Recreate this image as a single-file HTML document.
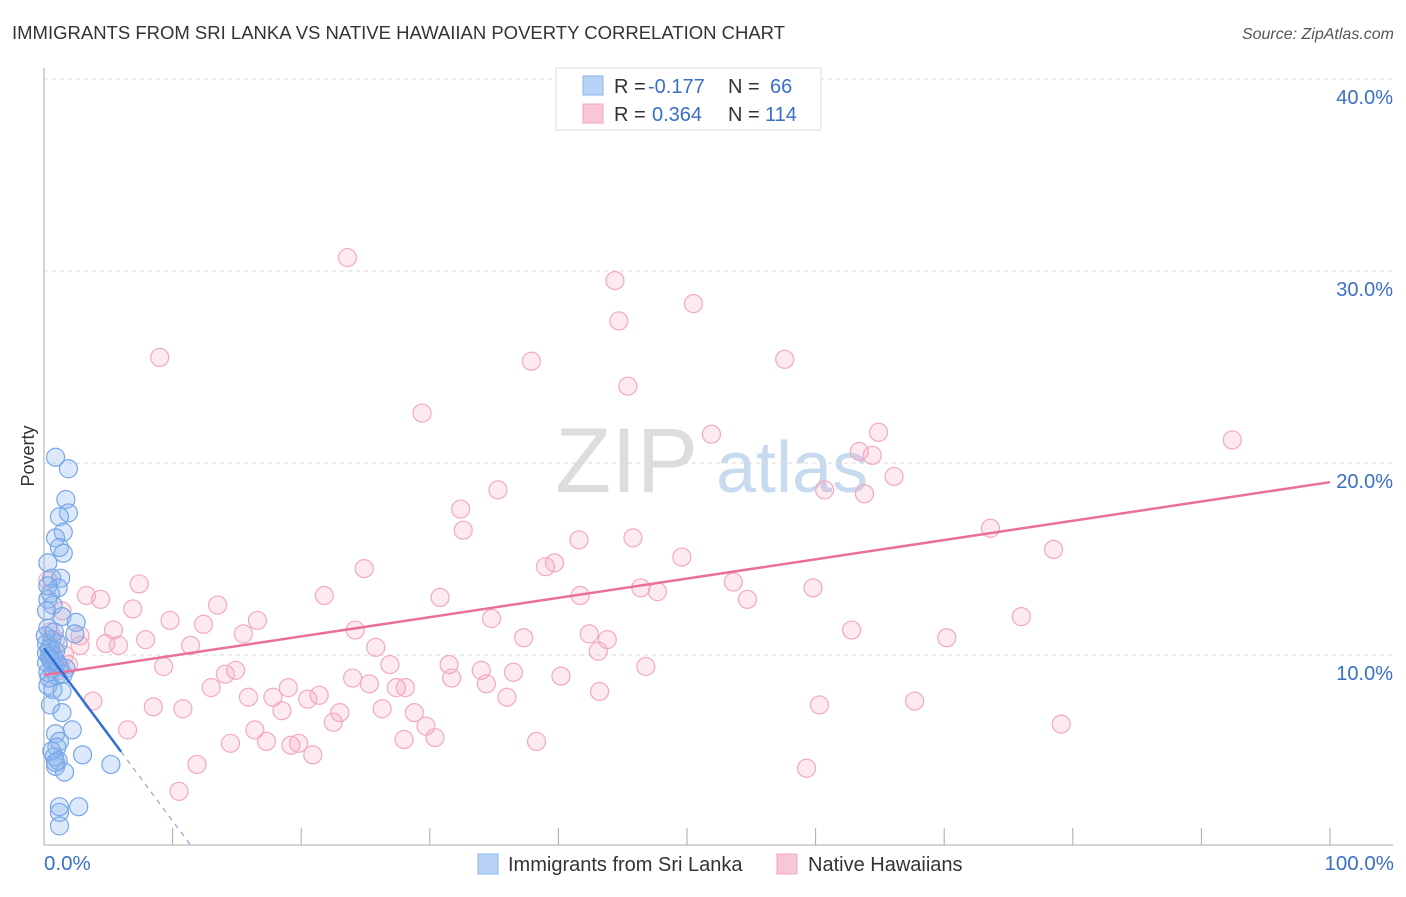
<!DOCTYPE html>
<html><head><meta charset="utf-8"><style>
body{margin:0;background:#fff;font-family:"Liberation Sans",sans-serif;}
svg text{font-family:"Liberation Sans",sans-serif;}
</style></head><body>
<svg width="1406" height="892" viewBox="0 0 1406 892">
<text x="12" y="39" font-size="18.5" fill="#333">IMMIGRANTS FROM SRI LANKA VS NATIVE HAWAIIAN POVERTY CORRELATION CHART</text>
<text x="1394" y="39" font-size="16" fill="#555" font-style="italic" text-anchor="end">Source: ZipAtlas.com</text>
<g>
<text x="555" y="492" font-size="92" font-family="Liberation Serif" fill="#ddd">ZIP</text>
<text x="716" y="492" font-size="72" fill="#c8daf0">atlas</text>
</g>
<g id="grid"></g>
<g id="axes"></g>
<g id="marks"></g>
<g id="trends"></g>
<text transform="translate(34,456) rotate(-90)" font-size="18" fill="#333" text-anchor="middle">Poverty</text>
<text x="44" y="870" font-size="20.5" fill="#3a6fc8">0.0%</text>
<text x="1394" y="870" font-size="20.5" fill="#3a6fc8" text-anchor="end">100.0%</text>
<g>
<rect x="556" y="68" width="265" height="62" fill="#fff" stroke="#ddd"/>
<rect x="583" y="76" width="20" height="19" fill="#b8d3f5" stroke="#8ab4ea"/>
<rect x="583" y="104" width="20" height="19" fill="#f9c6d6" stroke="#f2a7bf"/>
<text x="614" y="93" font-size="20" fill="#333">R = </text><text x="648" y="93" font-size="20" fill="#3a6fc8">-0.177</text>
<text x="728" y="93" font-size="20" fill="#333">N = </text><text x="770" y="93" font-size="20" fill="#3a6fc8">66</text>
<text x="614" y="121" font-size="20" fill="#333">R = </text><text x="652" y="121" font-size="20" fill="#3a6fc8">0.364</text>
<text x="728" y="121" font-size="20" fill="#333">N = </text><text x="765" y="121" font-size="20" fill="#3a6fc8">114</text>
</g>
<g>
<rect x="478" y="854" width="20" height="20" fill="#b8d3f5" stroke="#8ab4ea"/>
<text x="508" y="871" font-size="20" fill="#333">Immigrants from Sri Lanka</text>
<rect x="777" y="854" width="20" height="20" fill="#f9c6d6" stroke="#f2a7bf"/>
<text x="808" y="871" font-size="20" fill="#333">Native Hawaiians</text>
</g>
</svg>
<script>
const yTicks=[10,20,30,40];
const yTickLabels=["10.0%","20.0%","30.0%","40.0%"];
const xTicks=[10,20,30,40,50,60,70,80,90,100];
const blueX=[0.9,1.9,1.7,1.9,1.2,1.5,0.9,1.2,1.5,0.3,0.6,1.3,1.1,0.5,0.3,0.7,1.4,2.5,2.4,0.3,0.6,0.5,0.9,0.4,0.2,0.7,1.7,1.0,0.3,0.7,1.4,0.5,1.4,2.2,0.9,1.2,1.0,0.8,1.1,3.0,5.2,0.9,1.6,1.2,2.7,1.2,1.2,0.2,0.4,0.6,0.8,0.3,0.5,1.0,0.2,0.7,1.2,0.4,0.1,1.5,0.6,0.9,0.3,1.1,0.2,0.8];
const blueY=[20.3,19.7,18.1,17.4,17.2,16.4,16.1,15.6,15.3,14.8,14.0,14.0,13.5,13.2,12.9,12.6,12.0,11.7,11.1,11.4,10.8,10.4,10.2,9.9,9.6,9.3,9.3,8.9,8.4,8.2,8.1,7.4,7.0,6.1,5.9,5.5,5.2,4.7,4.5,4.8,4.3,4.2,3.9,2.1,2.1,1.8,1.1,10.1,10.3,9.7,9.5,9.1,9.8,9.6,10.6,10.0,9.4,8.8,11.0,9.0,5.0,4.4,13.6,10.6,12.3,11.2];
const pinkX=[23.6,44.4,50.5,44.7,9.0,37.9,57.6,45.4,29.4,51.9,64.9,92.4,63.4,64.4,66.1,35.3,60.7,63.8,32.4,32.6,73.6,41.6,45.8,49.6,78.5,24.9,39.0,39.7,7.4,53.6,46.4,47.7,3.3,4.4,21.8,30.8,41.7,54.7,59.8,6.9,13.5,9.8,16.6,12.4,34.8,76.0,5.4,24.2,42.4,62.8,2.8,7.9,15.5,37.3,43.8,70.2,4.8,5.8,11.4,2.8,25.8,43.1,9.3,26.9,31.5,34.0,36.5,46.8,14.9,14.1,24.0,40.2,31.7,34.4,13.0,19.0,25.3,28.1,27.4,43.2,15.9,21.4,17.8,20.5,36.0,3.8,8.5,10.8,18.5,26.3,28.8,60.3,67.7,23.0,79.1,22.5,6.5,16.4,29.7,14.5,17.3,19.2,19.8,28.0,30.4,38.3,20.9,11.9,59.3,10.5,1.6,1.2,0.9,1.4,0.5,0.3,1.9];
const pinkY=[30.7,29.5,28.3,27.4,25.5,25.3,25.4,24.0,22.6,21.5,21.6,21.2,20.6,20.4,19.3,18.6,18.6,18.4,17.6,16.5,16.6,16.0,16.1,15.1,15.5,14.5,14.6,14.8,13.7,13.8,13.5,13.3,13.1,12.9,13.1,13.0,13.1,12.9,13.5,12.4,12.6,11.8,11.8,11.6,11.9,12.0,11.3,11.3,11.1,11.3,11.0,10.8,11.1,10.9,10.8,10.9,10.6,10.5,10.5,10.5,10.4,10.2,9.4,9.5,9.5,9.2,9.1,9.4,9.2,9.0,8.8,8.9,8.8,8.5,8.3,8.3,8.5,8.3,8.3,8.1,7.8,7.9,7.8,7.7,7.8,7.6,7.3,7.2,7.1,7.2,7.0,7.4,7.6,7.0,6.4,6.5,6.1,6.1,6.3,5.4,5.5,5.3,5.4,5.6,5.7,5.5,4.8,4.3,4.1,2.9,10.0,9.2,10.8,12.3,11.2,13.9,9.5];
const blueTrend=[10.36,-0.9,6.0]; // intercept, slope, end of solid x
const pinkTrend=[8.96,19.0]; // y at x=0, y at x=100
const X=v=>44+v*12.86, Y=v=>847-v*19.2;
const NS="http://www.w3.org/2000/svg";
function mk(tag,attrs,parent){const e=document.createElementNS(NS,tag);for(const k in attrs)e.setAttribute(k,attrs[k]);document.getElementById(parent).appendChild(e);return e;}
yTicks.forEach((t,i)=>{
 const g=mk('line',{x1:44,x2:1393,y1:Y(t),y2:Y(t),stroke:'#d8d8d8','stroke-dasharray':'4,4'},'grid');
 
 
 const l=mk('text',{x:1393,y:Y(t)+25,'font-size':20,fill:'#3a6fc8','text-anchor':'end'},'grid');
 l.textContent=yTickLabels[i];
 
 
});
const ya=mk('line',{x1:44,x2:44,y1:68,y2:845,stroke:'#aaa'},'axes');


const xa=mk('line',{x1:44,x2:1393,y1:845,y2:845,stroke:'#aaa'},'axes');


xTicks.forEach(t=>{
 const k=mk('line',{x1:X(t),x2:X(t),y1:828,y2:845,stroke:'#aaa'},'axes');
 
 
});
pinkX.forEach((x,i)=>{
 const c=mk('circle',{cx:X(x),cy:Y(pinkY[i]),r:9,fill:'rgba(244,160,188,0.22)',stroke:'#f2a9c0','stroke-width':1.2},'marks');
 
 
});
blueX.forEach((x,i)=>{
 const c=mk('circle',{cx:X(x),cy:Y(blueY[i]),r:9,fill:'rgba(140,182,238,0.3)',stroke:'#78a6e6','stroke-width':1.2},'marks');
 
 
});
const pl=mk('line',{x1:X(0),y1:Y(pinkTrend[0]),x2:X(100),y2:Y(pinkTrend[1]),stroke:'#e8709a','stroke-width':2.5},'trends');


const bEnd=blueTrend[2], bZero=-blueTrend[0]/blueTrend[1];
const bl=mk('line',{x1:X(0),y1:Y(blueTrend[0]),x2:X(bEnd),y2:Y(blueTrend[0]+blueTrend[1]*bEnd),stroke:'#2f6fd6','stroke-width':2.5},'trends');


const bd=mk('line',{x1:X(bEnd),y1:Y(blueTrend[0]+blueTrend[1]*bEnd),x2:X(bZero),y2:Y(0),stroke:'#8aa8d8','stroke-width':1.2,'stroke-dasharray':'5,5'},'trends');


</script>
</body></html>
